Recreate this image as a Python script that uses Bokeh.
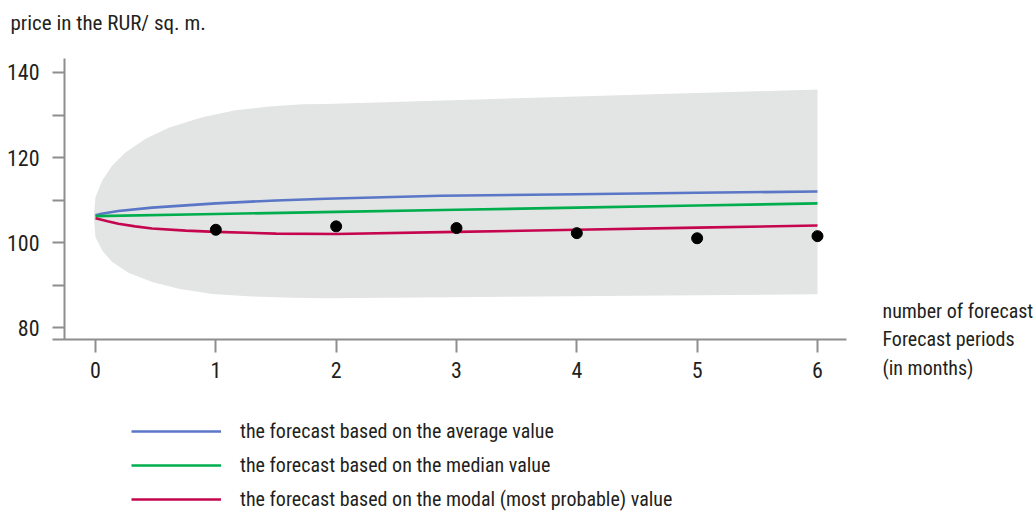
from bokeh.plotting import figure
from bokeh.models import FixedTicker, Label, Legend, LegendItem, Range1d
from bokeh.embed import file_html
from bokeh.resources import INLINE

FONT = "Liberation Sans Narrow, Arial Narrow, Roboto Condensed, sans-serif"
TXT = "#231f20"

# ---- data ----
x_ticks = [0, 1, 2, 3, 4, 5, 6]
y_major = [80, 100, 120, 140]
y_minor = [90, 110, 130]

obs_x = [1, 2, 3, 4, 5, 6]
obs_y = [103.0, 103.8, 103.4, 102.2, 101.0, 101.5]

avg_x = [0, 0.05, 0.19, 0.47, 1.0, 1.5, 1.91, 2.87, 4, 5, 6]
avg_y = [106.4, 106.75, 107.4, 108.2, 109.2, 109.9, 110.3, 111.0, 111.35, 111.7, 112.0]

med_x = [0, 1, 2, 3, 4, 5, 6]
med_y = [106.2, 106.7, 107.2, 107.7, 108.2, 108.7, 109.2]

mod_x = [0, 0.1, 0.19, 0.33, 0.47, 0.75, 1.0, 1.5, 2.0, 3, 4, 5, 6]
mod_y = [105.7, 105.0, 104.4, 103.8, 103.3, 102.8, 102.5, 102.1, 102.0, 102.5, 103.0, 103.5, 104.0]

band_up_x = [-0.014, 0.0, 0.056, 0.139, 0.249, 0.416, 0.609, 0.887, 1.163, 1.44, 1.718, 1.911, 6.0]
band_up_y = [106.1, 110.7, 114.6, 118.1, 121.2, 124.4, 127.0, 129.5, 131.1, 132.0, 132.5, 132.6, 136.0]
band_lo_x = [-0.014, 0.0, 0.056, 0.139, 0.277, 0.471, 0.692, 0.97, 1.30, 1.635, 1.911, 6.0]
band_lo_y = [106.1, 101.25, 98.1, 95.4, 92.8, 90.7, 89.1, 87.9, 87.3, 87.0, 86.9, 87.8]

legend_labels = [
    "the forecast based on the average value",
    "the forecast based on the median value",
    "the forecast based on the modal (most probable) value",
]
y_title = "price in the RUR/ sq. m."
x_title = ["number of forecast", "Forecast periods", "(in months)"]

# ---- figure: frame covers the whole canvas, axes placed at fixed locations ----
p = figure(width=1035, height=511, output_backend="svg", toolbar_location=None,
           x_range=Range1d(-0.7895, 7.8119), y_range=Range1d(36.71, 156.94),
           min_border=0, min_border_left=0, min_border_right=0,
           min_border_top=0, min_border_bottom=0)
p.outline_line_color = None
p.grid.visible = False
p.background_fill_color = "white"
p.border_fill_color = "white"

# band
bx = band_up_x + band_lo_x[::-1]
by = band_up_y + band_lo_y[::-1]
p.patch(bx, by, fill_color="#e3e4e4", line_color=None)

r_avg = p.line(avg_x, avg_y, line_color="#5a76c6", line_width=2.6)
r_med = p.line(med_x, med_y, line_color="#00ae4d", line_width=2.6)
r_mod = p.line(mod_x, mod_y, line_color="#c5064e", line_width=2.6)
p.scatter(obs_x, obs_y, size=11, color="black")

AX = "#8e8e8e"
# x axis
xa = p.xaxis[0]
xa.fixed_location = 77.18
xa.bounds = (-0.3573, 6.241)
xa.ticker = FixedTicker(ticks=x_ticks, minor_ticks=[])
xa.axis_line_color = AX
xa.axis_line_width = 2
xa.major_tick_line_color = AX
xa.major_tick_line_width = 2
xa.major_tick_out = 13
xa.major_tick_in = 0
xa.minor_tick_line_color = None
xa.major_label_text_font = FONT
xa.major_label_text_font_size = "22px"
xa.major_label_text_color = TXT
xa.major_label_standoff = 10

ya = p.yaxis[0]
ya.fixed_location = -0.2576
ya.bounds = (77.18, 143.29)
ya.ticker = FixedTicker(ticks=y_major, minor_ticks=y_minor)
ya.axis_line_color = AX
ya.axis_line_width = 2
ya.major_tick_line_color = AX
ya.major_tick_line_width = 2
ya.major_tick_out = 12
ya.major_tick_in = 0
ya.minor_tick_line_color = AX
ya.minor_tick_line_width = 2
ya.minor_tick_out = 12
ya.minor_tick_in = 0
ya.major_label_text_font = FONT
ya.major_label_text_font_size = "22px"
ya.major_label_text_color = TXT
ya.major_label_standoff = 13

# title at top-left
p.add_layout(Label(x=-0.7064, y=151.7, text=y_title, text_font=FONT, text_font_size="21px",
                   text_color=TXT, text_baseline="alphabetic", text_align="left"))

# right-side x title
for txt, yy in zip(x_title, [84.0, 77.18, 70.59]):
    p.add_layout(Label(x=6.540, y=yy, text=txt, text_font=FONT, text_font_size="20px",
                       text_color=TXT, text_baseline="middle", text_align="left"))

legend = Legend(items=[LegendItem(label=legend_labels[0], renderers=[r_avg]),
                       LegendItem(label=legend_labels[1], renderers=[r_med]),
                       LegendItem(label=legend_labels[2], renderers=[r_mod])],
                location=(131, 0), orientation="vertical",
                glyph_width=90, glyph_height=24, label_height=24, label_standoff=19,
                spacing=10, padding=0, margin=0,
                border_line_color=None, background_fill_alpha=0,
                label_text_font=FONT, label_text_font_size="20px", label_text_color=TXT)
p.add_layout(legend, "center")

open("out.html", "w").write(file_html(p, INLINE))
